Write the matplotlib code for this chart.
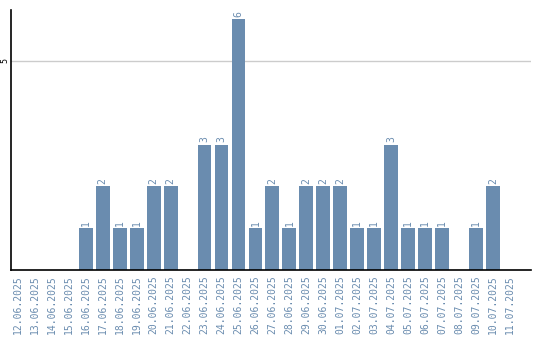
import matplotlib
matplotlib.use("Agg")
import matplotlib.pyplot as plt

# Daily counts
dates = ['12.06.2025', '13.06.2025', '14.06.2025', '15.06.2025', '16.06.2025',
         '17.06.2025', '18.06.2025', '19.06.2025', '20.06.2025', '21.06.2025',
         '22.06.2025', '23.06.2025', '24.06.2025', '25.06.2025', '26.06.2025',
         '27.06.2025', '28.06.2025', '29.06.2025', '30.06.2025', '01.07.2025',
         '02.07.2025', '03.07.2025', '04.07.2025', '05.07.2025', '06.07.2025',
         '07.07.2025', '08.07.2025', '09.07.2025', '10.07.2025', '11.07.2025']
counts = [0, 0, 0, 0, 1, 2, 1, 1, 2, 2, 0, 3, 3, 6, 1, 2, 1, 2, 2, 2,
          1, 1, 3, 1, 1, 1, 0, 1, 2, 0]

bar_color = '#6a8caf'

fig = plt.figure(figsize=(5.4, 3.4), dpi=100)
ax = fig.add_axes([11 / 540, 70 / 340, 519.5 / 540, 260 / 340])

x = range(len(dates))
ax.bar(x, counts, width=0.82, color=bar_color, zorder=2)
for i, c in enumerate(counts):
    if c > 0:
        ax.text(i, c + 0.06, str(c), rotation=90, ha='center', va='bottom',
                color=bar_color, fontsize=7, family='DejaVu Sans Mono')

ax.set_xlim(-0.4, 30.2)
ax.set_ylim(0, 6.22)
ax.set_yticks([5])
ax.set_yticklabels(['5'], rotation=90, va='center', fontsize=6,
                   family='DejaVu Sans Mono')
ax.yaxis.grid(True, color='#cccccc', lw=1, zorder=0)
ax.tick_params(axis='y', length=0, pad=1)
ax.set_xticks(list(x))
ax.set_xticklabels(dates, rotation=90, fontsize=7, color=bar_color,
                   family='DejaVu Sans Mono')
ax.tick_params(axis='x', length=0, pad=4)

for s in ['top', 'right']:
    ax.spines[s].set_visible(False)
ax.spines['left'].set_linewidth(1.2)
ax.spines['bottom'].set_linewidth(1.2)

fig.savefig('out.png', dpi=100)
